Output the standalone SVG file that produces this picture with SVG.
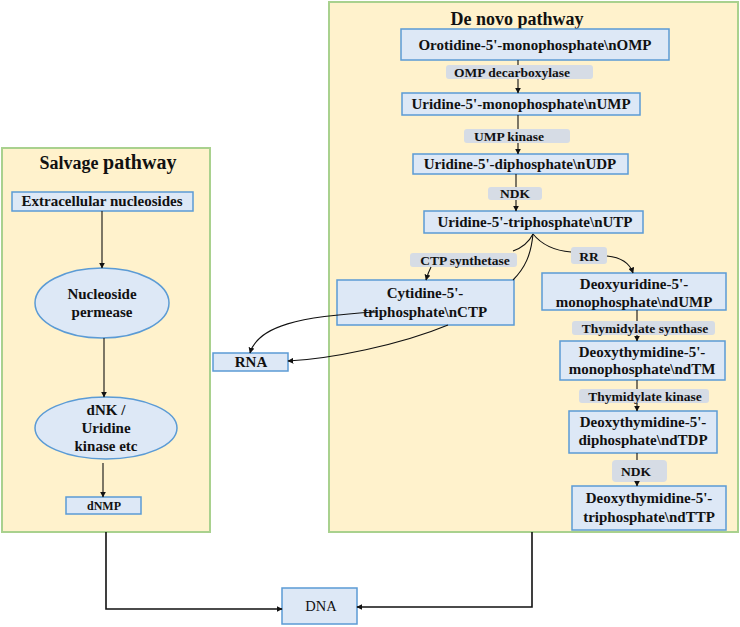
<svg xmlns="http://www.w3.org/2000/svg" width="740" height="627" viewBox="0 0 740 627">
<defs>
<style>
.panel{fill:#FFF2CC;stroke:#A9D18E;stroke-width:2}
.box{fill:#DDE8F6;stroke:#5B9BD5;stroke-width:1.5}
.enz{fill:#D6DCE5;stroke:none}
.t{font-family:"Liberation Serif","Times New Roman",serif;font-weight:bold;fill:#111;text-anchor:middle}
.b14{font-size:15px}
.b12{font-size:13.5px}
.c{fill:none;stroke:#111;stroke-width:1.1}
.c2{fill:none;stroke:#111;stroke-width:1.6}
</style>
<marker id="ah" viewBox="0 0 10 10" refX="9" refY="5" markerWidth="6" markerHeight="6" markerUnits="userSpaceOnUse" orient="auto">
<path d="M0,0 L10,5 L0,10 z" fill="#111"/>
</marker>
</defs>

<g id="panel-salvage">
<rect class="panel" x="2" y="148" width="208" height="384"/>
<text class="t" x="108" y="169" font-size="18">Salvage <tspan font-size="20">pathway</tspan></text>
</g>
<g id="panel-denovo">
<rect class="panel" x="329" y="2" width="409" height="530"/>
<text class="t" x="517" y="25" font-size="18">De novo pathway</text>
</g>

<g id="node-omp"><rect class="box" x="401" y="29" width="268" height="31"/><text class="t b14" x="535" y="50">Orotidine-5'-monophosphate\nOMP</text></g>
<g id="enz-omp"><rect class="enz" x="446" y="65" width="147" height="14" rx="3"/><text class="t b12" x="512" y="77">OMP decarboxylase</text></g>
<g id="node-ump"><rect class="box" x="402" y="93" width="238" height="22"/><text class="t b14" x="521" y="109">Uridine-5'-monophosphate\nUMP</text></g>
<g id="enz-ump"><rect class="enz" x="464" y="129" width="106" height="14" rx="3"/><text class="t b12" x="509" y="141">UMP kinase</text></g>
<g id="node-udp"><rect class="box" x="413" y="154" width="215" height="20"/><text class="t b14" x="520" y="169">Uridine-5'-diphosphate\nUDP</text></g>
<g id="enz-ndk1"><rect class="enz" x="488" y="187" width="54" height="13" rx="3"/><text class="t b12" x="515" y="198">NDK</text></g>
<g id="node-utp"><rect class="box" x="424" y="211" width="219" height="22"/><text class="t b14" x="535" y="227">Uridine-5'-triphosphate\nUTP</text></g>
<g id="enz-ctps"><rect class="enz" x="410" y="253" width="107" height="14" rx="3"/><text class="t b12" x="465" y="265">CTP synthetase</text></g>
<g id="enz-rr"><rect class="enz" x="571" y="247" width="36" height="17" rx="3"/><text class="t b12" x="589" y="261">RR</text></g>
<g id="node-ctp"><rect class="box" x="337" y="280" width="177" height="45"/><text class="t b14" x="425" y="298">Cytidine-5'-</text><text class="t b14" x="425" y="317">triphosphate\nCTP</text></g>
<g id="node-dump"><rect class="box" x="542" y="273" width="184" height="37"/><text class="t b14" x="634" y="289">Deoxyuridine-5'-</text><text class="t b14" x="634" y="307">monophosphate\ndUMP</text></g>
<g id="enz-ts"><rect class="enz" x="572" y="321" width="143" height="14" rx="3"/><text class="t b12" x="645" y="333">Thymidylate synthase</text></g>
<g id="node-dtm"><rect class="box" x="560" y="341" width="165" height="39"/><text class="t b14" x="642" y="357">Deoxythymidine-5'-</text><text class="t b14" x="642" y="374">monophosphate\ndTM</text></g>
<g id="enz-tk"><rect class="enz" x="579" y="389" width="130" height="14" rx="3"/><text class="t b12" x="645" y="401">Thymidylate kinase</text></g>
<g id="node-dtdp"><rect class="box" x="569" y="411" width="148" height="42"/><text class="t b14" x="643" y="427">Deoxythymidine-5'-</text><text class="t b14" x="643" y="445">diphosphate\ndTDP</text></g>
<g id="enz-ndk2"><rect class="enz" x="612" y="460" width="55" height="22" rx="4"/><text class="t b12" x="636" y="476">NDK</text></g>
<g id="node-dttp"><rect class="box" x="572" y="486" width="154" height="44"/><text class="t b14" x="649" y="503">Deoxythymidine-5'-</text><text class="t b14" x="649" y="522">triphosphate\ndTTP</text></g>

<g id="node-extra"><rect class="box" x="12" y="192" width="181" height="19"/><text class="t b14" x="102" y="206">Extracellular nucleosides</text></g>
<g id="node-permease"><ellipse class="box" cx="102" cy="303" rx="67" ry="35"/><text class="t b14" x="102" y="299">Nucleoside</text><text class="t b14" x="102" y="317">permease</text></g>
<g id="node-dnk"><ellipse class="box" cx="106" cy="428" rx="71" ry="31"/><text class="t b14" x="106" y="415">dNK /</text><text class="t b14" x="106" y="433">Uridine</text><text class="t b14" x="106" y="451">kinase etc</text></g>
<g id="node-dnmp"><rect class="box" x="66" y="497" width="75" height="17"/><text class="t" font-size="12" x="104" y="510">dNMP</text></g>

<g id="node-rna"><rect class="box" x="213" y="353" width="75" height="18"/><text class="t b14" x="251" y="367">RNA</text></g>
<g id="node-dna"><rect class="box" x="282" y="588" width="75" height="36"/><text x="321" y="611" font-family="Liberation Serif,Times New Roman,serif" font-size="14.5" text-anchor="middle" fill="#111">DNA</text></g>

<g id="connectors">
<path class="c" d="M518,60 V65"/>
<path class="c" d="M518,79 V93" marker-end="url(#ah)"/>
<path class="c" d="M518,115 V129"/>
<path class="c" d="M518,143 V154" marker-end="url(#ah)"/>
<path class="c" d="M516,174 V187"/>
<path class="c" d="M516,200 V211" marker-end="url(#ah)"/>
<path class="c" d="M533,234 Q527,246 513,251"/>
<path class="c" d="M431,267 Q428,273 426,280" marker-end="url(#ah)"/>
<path class="c" d="M533,234 C531,255 525,268 513,280"/>
<path class="c" d="M533,234 Q546,250 571,252"/>
<path class="c" d="M607,256 Q628,258 633,273" marker-end="url(#ah)"/>
<path class="c" d="M637,310 V321"/>
<path class="c" d="M637,335 V341" marker-end="url(#ah)"/>
<path class="c" d="M637,380 V389"/>
<path class="c" d="M637,403 V411" marker-end="url(#ah)"/>
<path class="c" d="M637,453 V460"/>
<path class="c" d="M637,482 V486" marker-end="url(#ah)"/>
<path class="c" d="M377,312 C300,316 258,326 250,353" marker-end="url(#ah)"/>
<path class="c" d="M448,325 C400,345 330,359 288,361" marker-end="url(#ah)"/>
<path class="c" d="M102,211 V268" marker-end="url(#ah)"/>
<path class="c" d="M104,338 V397" marker-end="url(#ah)"/>
<path class="c" d="M103,463 V497" marker-end="url(#ah)"/>
<path class="c2" d="M106,532 V609 H282" marker-end="url(#ah)"/>
<path class="c2" d="M532,532 V607 H357" marker-end="url(#ah)"/>
</g>
</svg>
